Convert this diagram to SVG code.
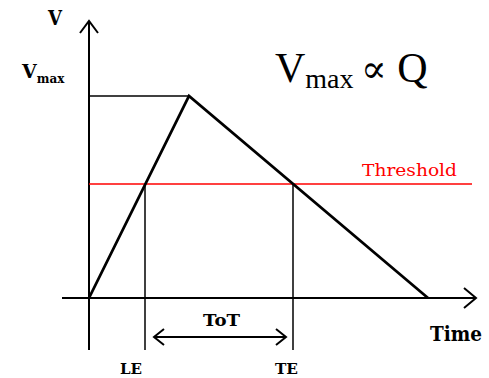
<svg xmlns="http://www.w3.org/2000/svg" width="489" height="378" viewBox="0 0 489 378">
<defs>
<style>
.ax{stroke:#000;stroke-width:2;fill:none}
.thin{stroke:#000;stroke-width:1.5;fill:none}
.pulse{stroke:#000;stroke-width:2.8;fill:none;stroke-linejoin:miter}
.red{stroke:#ff0000;stroke-width:1.6;fill:none}
.slab{font-family:"DejaVu Serif","Liberation Serif",serif;fill:#000}
.tnr{font-family:"Liberation Serif","DejaVu Serif",serif;fill:#000}
</style>
</defs>
<rect width="489" height="378" fill="#fff"/>
<g id="connectors">
<path id="y-axis" class="ax" d="M89,350 V21 M80,33 L89,21 L98,33"/>
<path id="x-axis" class="ax" d="M62,298 H476 M464,288 L476,298 L464,308"/>
<line id="vmax-line" class="thin" x1="89" y1="96" x2="189" y2="96"/>
<line id="threshold-line" class="red" x1="89" y1="184" x2="472" y2="184"/>
<line id="le-line" class="thin" x1="145" y1="184" x2="145" y2="350"/>
<line id="te-line" class="thin" x1="293" y1="184" x2="293" y2="350"/>
<path id="tot-arrow" class="ax" d="M154,337 H286 M164,329 L154,337 L164,345 M276,329 L286,337 L276,345"/>
</g>
<g id="pulse"><polyline class="pulse" points="89,298 189,96 428,298"/></g>
<g id="label-v"><text class="slab" x="48" y="25" font-size="20" font-weight="bold" textLength="14" lengthAdjust="spacingAndGlyphs">V</text></g>
<g id="label-vmax"><text class="slab" x="22" y="78" font-size="19" font-weight="bold">V<tspan font-size="12" dy="5">max</tspan></text></g>
<g id="label-formula"><text class="tnr" x="275" y="82" font-size="42">V<tspan font-size="28" dy="6">max</tspan><tspan font-size="30" dy="-6"> </tspan><tspan font-size="38" font-family="DejaVu Serif, serif">∝</tspan><tspan font-size="42"> Q</tspan></text></g>
<g id="label-threshold"><text class="slab" x="362" y="176" font-size="17" fill="#ff0000" style="fill:#ff0000" textLength="95" lengthAdjust="spacingAndGlyphs">Threshold</text></g>
<g id="label-tot"><text class="slab" x="203" y="326" font-size="16" font-weight="bold" textLength="37" lengthAdjust="spacingAndGlyphs">ToT</text></g>
<g id="label-time"><text class="slab" x="430" y="341" font-size="21" font-weight="bold" textLength="52" lengthAdjust="spacingAndGlyphs">Time</text></g>
<g id="label-le"><text class="slab" x="120" y="374" font-size="15" font-weight="bold" textLength="22" lengthAdjust="spacingAndGlyphs">LE</text></g>
<g id="label-te"><text class="slab" x="275" y="374" font-size="15" font-weight="bold" textLength="23" lengthAdjust="spacingAndGlyphs">TE</text></g>
</svg>
